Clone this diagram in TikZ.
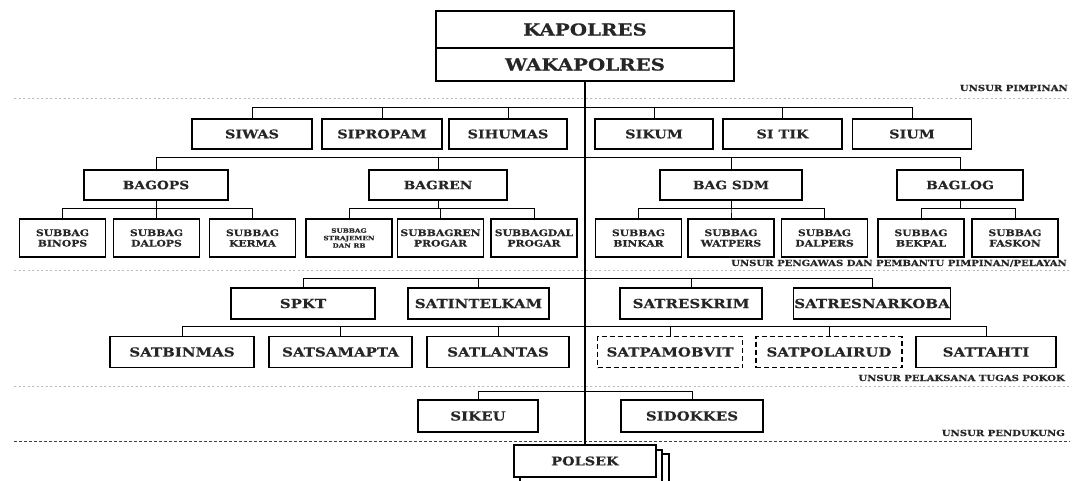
\documentclass[tikz,border=0pt]{standalone}
\usepackage{fontspec}
\setmainfont{DejaVu Serif}[FakeStretch=1.2, BoldFeatures={FakeBold=0.4}]

\begin{document}
\begin{tikzpicture}[x=1pt, y=-1pt,
        unit/.style={draw, line width=1.1pt, inner sep=1pt, minimum height=30, text=black!85, font=\fontsize{12}{14}\selectfont\bfseries},
        topbox/.style={unit, line width=1.3pt, minimum width=298, font=\fontsize{16.5}{18}\selectfont\bfseries},
        bagbox/.style={unit, font=\fontsize{11.5}{13}\selectfont\bfseries},
        subbox/.style={unit, minimum height=38, align=center, font=\fontsize{9}{10.5}\selectfont\bfseries},
        satbox/.style={unit, minimum height=31, font=\fontsize{12.5}{14}\selectfont\bfseries},
        dashbox/.style={satbox, dash pattern=on 5pt off 3pt},
        link/.style={line width=1pt},
        sepline/.style={gray!55, line width=0.8pt, dash pattern=on 2pt off 2.5pt},
        zone/.style={inner sep=0pt, text=black!85, font=\fontsize{8.4}{10}\selectfont\bfseries}]
    \useasboundingbox (0,0) rectangle (1077,480);

    % separators between the groups
    \draw[sepline] (14,98) -- (1070,98);
    \draw[sepline] (14,270) -- (1070,270);
    \draw[sepline] (14,386) -- (1070,386);
    \draw[sepline, black!75, dash pattern=on 3pt off 2pt] (14,441) -- (1070,441);

    \node[zone, anchor=base east] (zpimpinan) at (1068,91) {UNSUR PIMPINAN};
    \node[zone, anchor=base east] (zpengawas) at (1067,266) {UNSUR PENGAWAS DAN PEMBANTU PIMPINAN/PELAYAN};
    \node[zone, anchor=base east] (zpokok) at (1065,381) {UNSUR PELAKSANA TUGAS POKOK};
    \node[zone, anchor=base east] (zpendukung) at (1065,436) {UNSUR PENDUKUNG};

    % pimpinan
    \node[topbox, minimum height=37] (kapolres) at (585,29.5) {KAPOLRES};
    \node[topbox, minimum height=33] (wakapolres) at (585,64.5) {WAKAPOLRES};

    % polsek, stacked
    \node[unit, fill=white, minimum width=142, minimum height=32] (polsekc) at (598,470) {};
    \node[unit, fill=white, minimum width=142, minimum height=32] (polsekb) at (591,466) {};
    \node[unit, fill=white, minimum width=142, minimum height=32] (polsek) at (585,461) {POLSEK};

    \draw[link, line width=1.1pt] (wakapolres.south) -- (polsek.north);

    % seksi
    \coordinate (busa) at (585,107);
    \foreach \n/\x/\w/\t in {siwas/252/120/SIWAS, sipropam/382/120/SIPROPAM, sihumas/508/118/SIHUMAS,
                             sikum/654/118/SIKUM, sitik/782.5/119/SI TIK, sium/912/119/SIUM} {
        \node[unit, minimum width=\w] (\n) at (\x,134) {\t};
        \draw[link] (busa) -| (\n.north);
    }

    % bagian
    \coordinate (busb) at (585,157);
    \foreach \n/\x/\w/\t in {bagops/156/144/BAGOPS, bagren/438/138/BAGREN,
                             bagsdm/731/142/BAG SDM, baglog/960/126/BAGLOG} {
        \node[bagbox, minimum width=\w] (\n) at (\x,185) {\t};
        \draw[link] (busb) -| (\n.north);
    }

    % subbagian
    \foreach \p/\n/\x/\t in {bagops/binops/62.5/{SUBBAG\\BINOPS}, bagops/dalops/156.5/{SUBBAG\\DALOPS},
                             bagops/kerma/252.5/{SUBBAG\\KERMA},
                             bagren/subbagren/440.5/{SUBBAGREN\\PROGAR}, bagren/subbagdal/534/{SUBBAGDAL\\PROGAR},
                             bagsdm/binkar/638.5/{SUBBAG\\BINKAR}, bagsdm/watpers/731/{SUBBAG\\WATPERS},
                             bagsdm/dalpers/824.5/{SUBBAG\\DALPERS},
                             baglog/bekpal/921/{SUBBAG\\BEKPAL}, baglog/faskon/1015/{SUBBAG\\FASKON}} {
        \node[subbox, minimum width=86] (\n) at (\x,238) {\t};
        \draw[link] (\p.south) -- ++(0,8) -| (\n.north);
    }
    \node[subbox, minimum width=86, font=\fontsize{6}{7.5}\selectfont\bfseries] (strajemen) at (349,238) {SUBBAG\\STRAJEMEN\\DAN RB};
    \draw[link] (bagren.south) -- ++(0,8) -| (strajemen.north);

    % satuan
    \coordinate (busc) at (585,278);
    \foreach \n/\x/\w/\t in {spkt/303/144/SPKT, satintelkam/478.5/141/SATINTELKAM,
                             satreskrim/691/142/SATRESKRIM, satresnarkoba/872/152/SATRESNARKOBA} {
        \node[satbox, minimum width=\w] (\n) at (\x,303.5) {\t};
        \draw[link] (busc) -| (\n.north);
    }
    \coordinate (busd) at (585,326);
    \foreach \n/\x/\w/\t in {satbinmas/182/144/SATBINMAS, satsamapta/340.5/143/SATSAMAPTA,
                             satlantas/498/142/SATLANTAS, sattahti/986/140/SATTAHTI} {
        \node[satbox, minimum width=\w] (\n) at (\x,352) {\t};
        \draw[link] (busd) -| (\n.north);
    }
    \foreach \n/\x/\w/\t in {satpamobvit/670/145/SATPAMOBVIT, satpolairud/829/146/SATPOLAIRUD} {
        \node[dashbox, minimum width=\w] (\n) at (\x,352) {\t};
        \draw[link] (busd) -| (\n.north);
    }

    % pendukung
    \coordinate (buse) at (585,391);
    \foreach \n/\x/\w/\t in {sikeu/478/120/SIKEU, sidokkes/692/142/SIDOKKES} {
        \node[satbox, minimum width=\w, minimum height=32] (\n) at (\x,416) {\t};
        \draw[link] (buse) -| (\n.north);
    }
\end{tikzpicture}
\end{document}
